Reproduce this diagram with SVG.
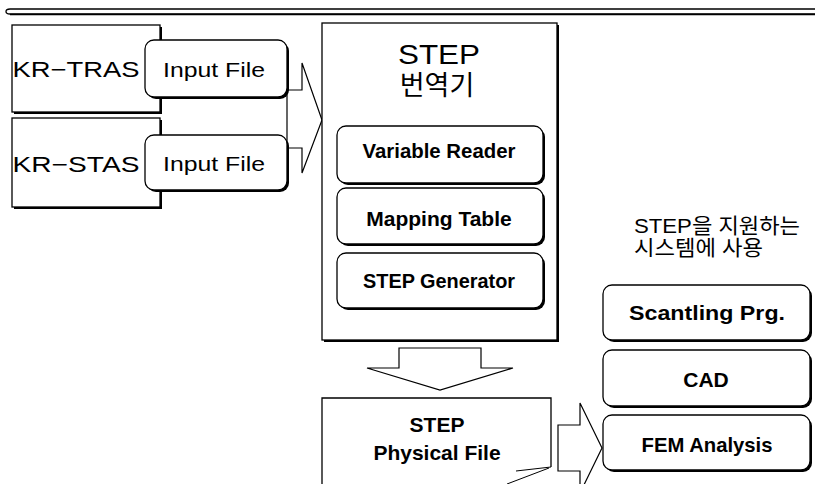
<svg xmlns="http://www.w3.org/2000/svg" width="815" height="484" viewBox="0 0 815 484">
<style>
.bx{fill:#fff;stroke:#000;stroke-width:1.3}
.sh{fill:#000}
.ar{fill:#fff;stroke:#000;stroke-width:1.2;stroke-linejoin:miter}
.t{font-family:"Liberation Sans","Noto Sans CJK KR",sans-serif;fill:#000;text-anchor:middle}
.b{font-weight:bold}
.k{font-family:"Liberation Sans","Noto Sans CJK KR",sans-serif;fill:#000}
</style>
<rect width="815" height="484" fill="#fff"/>
<g id="topline" fill="none" stroke="#000">
<path d="M815,9 H10 Q6,9 6,11.5 Q6,14 10,14 H815" stroke-width="1.3"/>
<line x1="10" y1="14.5" x2="815" y2="14.5" stroke-width="1.5"/>
</g>
<g id="connectors">
<polygon class="ar" points="287,90 302,90 302,63 322,120 302,173 302,148 287,148"/>
<polygon class="ar" points="399,348 481,348 481,368 513,368 440,390 367,368 399,368"/>
<polygon class="ar" points="558,425 580,425 580,403 602,448 580,493 580,471 558,471"/>
</g>
<g id="kr-tras">
<rect class="sh" x="14" y="27" width="148" height="87"/>
<rect class="bx" x="12" y="25" width="148" height="87"/>
<text class="t" x="76" y="77" font-size="22" textLength="127" lengthAdjust="spacingAndGlyphs">KR−TRAS</text>
</g>
<g id="kr-stas">
<rect class="sh" x="14" y="120" width="148" height="89"/>
<rect class="bx" x="12" y="118" width="148" height="89"/>
<text class="t" x="76" y="172" font-size="22" textLength="127" lengthAdjust="spacingAndGlyphs">KR−STAS</text>
</g>
<g id="input1">
<rect class="sh" x="147" y="42" width="142" height="57" rx="9"/>
<rect class="bx" x="145" y="40" width="142" height="57" rx="9"/>
<text class="t" x="214" y="77" font-size="21" textLength="102" lengthAdjust="spacingAndGlyphs">Input File</text>
</g>
<g id="input2">
<rect class="sh" x="147" y="137" width="142" height="55" rx="9"/>
<rect class="bx" x="145" y="135" width="142" height="55" rx="9"/>
<text class="t" x="214" y="171" font-size="21" textLength="102" lengthAdjust="spacingAndGlyphs">Input File</text>
</g>
<g id="translator">
<rect class="sh" x="324" y="25" width="235" height="317"/>
<rect class="bx" x="322" y="23" width="235" height="317"/>
<text class="t" x="439" y="64" font-size="27" textLength="82" lengthAdjust="spacingAndGlyphs">STEP</text>
<text class="t" x="437" y="95" font-size="27">번역기</text>
</g>
<g id="variable-reader">
<rect class="sh" x="339" y="128" width="206" height="57" rx="9"/>
<rect class="bx" x="337" y="126" width="206" height="57" rx="9"/>
<text class="t b" x="439" y="158" font-size="21" textLength="153" lengthAdjust="spacingAndGlyphs">Variable Reader</text>
</g>
<g id="mapping-table">
<rect class="sh" x="339" y="190" width="206" height="56" rx="9"/>
<rect class="bx" x="337" y="188" width="206" height="56" rx="9"/>
<text class="t b" x="439" y="226" font-size="21">Mapping Table</text>
</g>
<g id="step-generator">
<rect class="sh" x="339" y="255" width="206" height="55" rx="9"/>
<rect class="bx" x="337" y="253" width="206" height="55" rx="9"/>
<text class="t b" x="439" y="288" font-size="21" textLength="152" lengthAdjust="spacingAndGlyphs">STEP Generator</text>
</g>
<g id="physical-file">
<path d="M322,484 V398 H551 V467" fill="#fff" stroke="#000" stroke-width="1.3"/>
<path d="M551,467 L516,471 M549,468 L507,484" fill="none" stroke="#000" stroke-width="1"/>
<text class="t b" x="437" y="432" font-size="21">STEP</text>
<text class="t b" x="437" y="460" font-size="21">Physical File</text>
</g>
<g id="note">
<text class="k" x="634" y="233" font-size="21" textLength="166" lengthAdjust="spacingAndGlyphs">STEP을 지원하는</text>
<text class="k" x="634" y="255" font-size="21" textLength="129" lengthAdjust="spacingAndGlyphs">시스템에 사용</text>
</g>
<g id="scantling">
<rect class="sh" x="605" y="287" width="207" height="55" rx="9"/>
<rect class="bx" x="603" y="285" width="207" height="55" rx="9"/>
<text class="t b" x="707" y="320" font-size="21" textLength="156" lengthAdjust="spacingAndGlyphs">Scantling Prg.</text>
</g>
<g id="cad">
<rect class="sh" x="605" y="352" width="207" height="56" rx="9"/>
<rect class="bx" x="603" y="350" width="207" height="56" rx="9"/>
<text class="t b" x="706" y="387" font-size="21">CAD</text>
</g>
<g id="fem">
<rect class="sh" x="605" y="417" width="207" height="55" rx="9"/>
<rect class="bx" x="603" y="415" width="207" height="55" rx="9"/>
<text class="t b" x="707" y="452" font-size="21" textLength="131" lengthAdjust="spacingAndGlyphs">FEM Analysis</text>
</g>
</svg>
